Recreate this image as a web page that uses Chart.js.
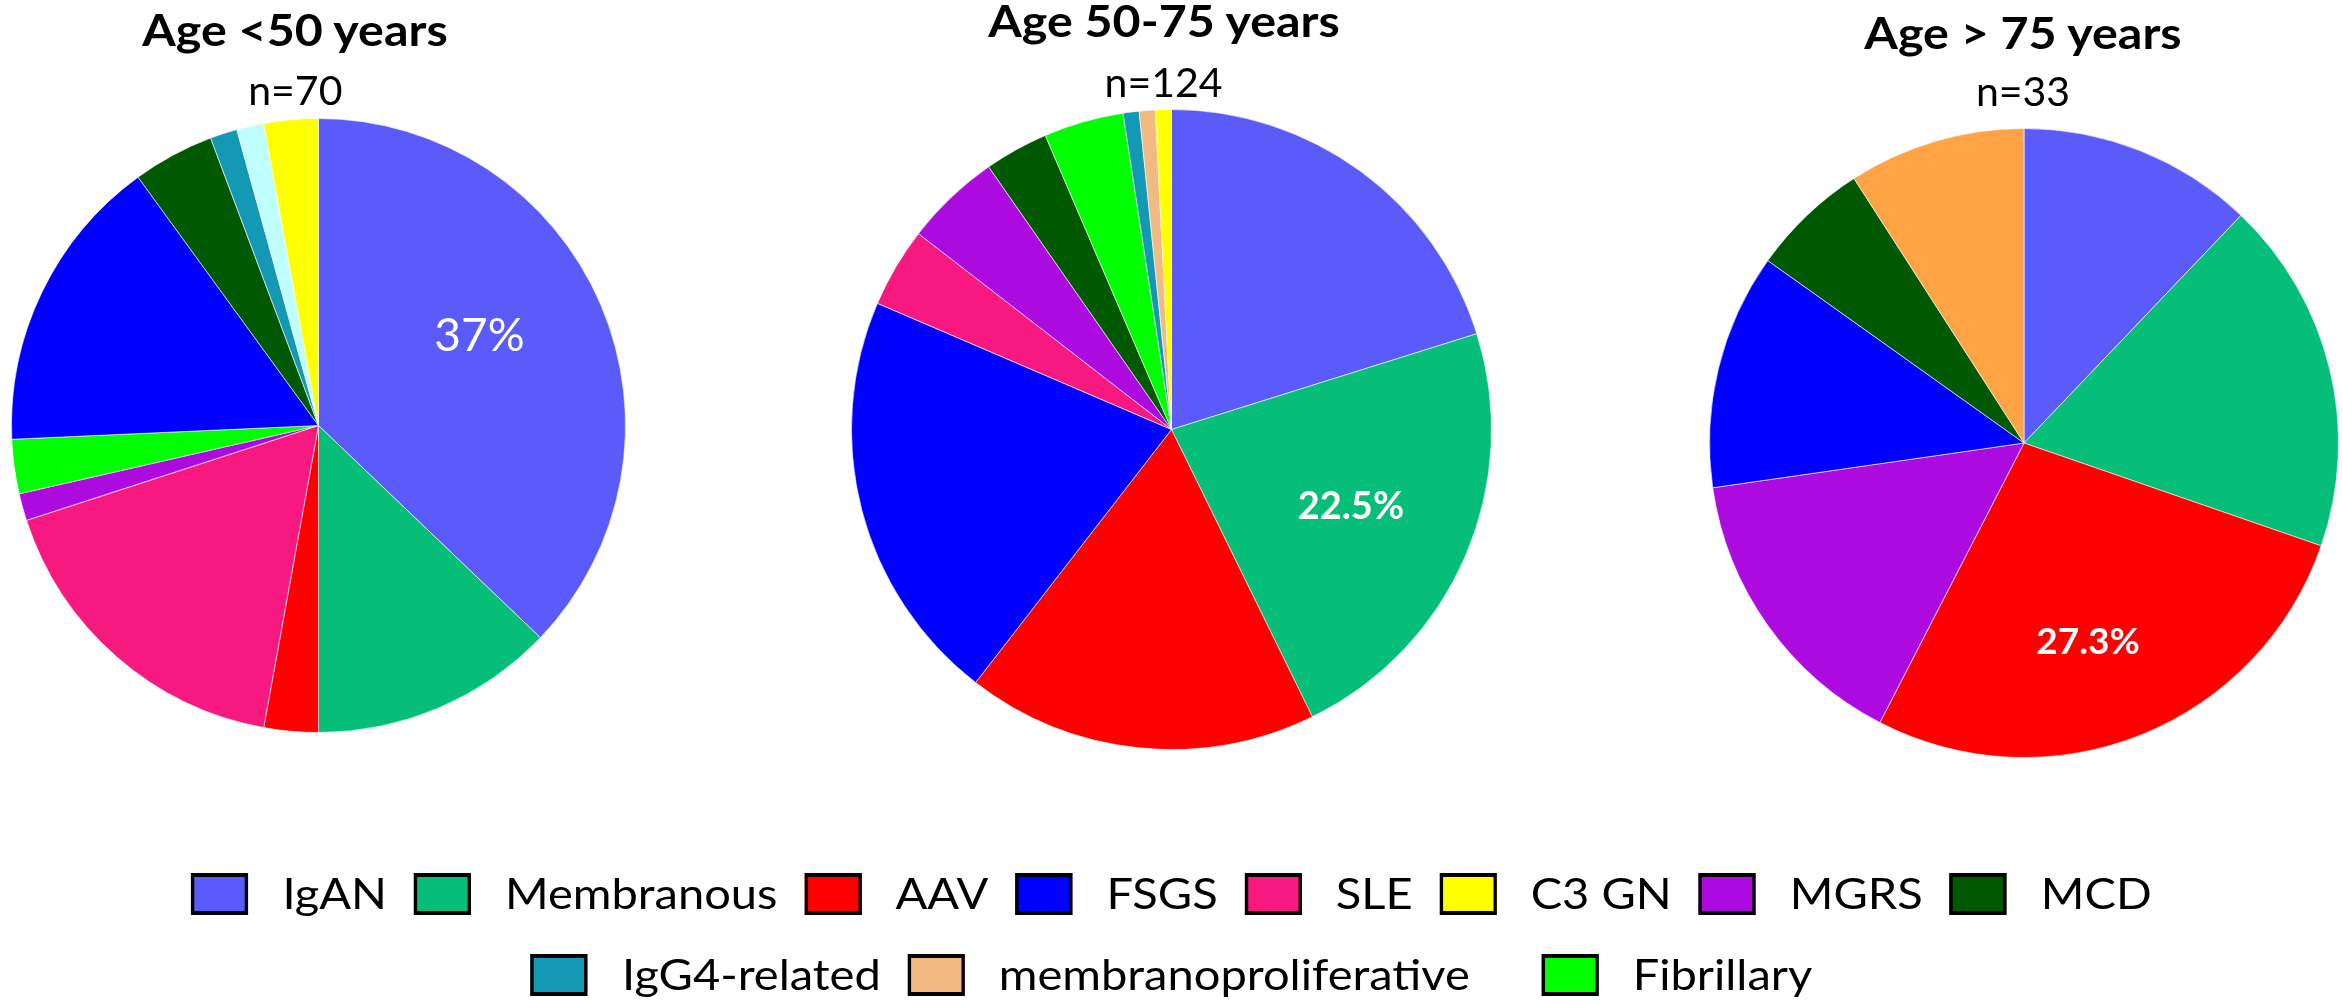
<!DOCTYPE html>
<html>
<head>
<meta charset="utf-8">
<title>Kidney biopsy diagnoses by age group</title>
<script src="https://cdn.jsdelivr.net/npm/chart.js@4.4.0/dist/chart.umd.min.js"></script>
<style>
  html, body { margin: 0; padding: 0; background: #fff; }
  body { width: 2343px; height: 1006px; position: relative; overflow: hidden; font-family: Lato, 'Open Sans', sans-serif; color: #000; }
  .pie { position: absolute; }
  .head { position: absolute; line-height: 1; white-space: nowrap; transform-origin: 50% 0; }
  .head.title { font-weight: 700; font-size: 44px; }
  .head.count { font-weight: 400; font-size: 41px; }
  #legend { position: absolute; left: 0; top: 0; width: 2343px; height: 1006px; transform: scaleX(1.12); transform-origin: 1171.5px 0; }
  .row { position: absolute; left: 0; width: 100%; display: flex; justify-content: center; font-size: 42px; line-height: 1; }
  .item { display: flex; align-items: flex-start; margin: 0 12px; white-space: nowrap; }
  .row.second .item:last-child { margin-left: 52px; }
  .swatch { box-sizing: border-box; width: 51px; height: 42px; border: 4px solid #000; border-left-width: 3.6px; border-right-width: 3.6px; margin-top: 1px; margin-right: 30.4px; }
</style>
</head>
<body>
<div id="pie1" class="pie" style="left:10.7px; top:117.5px; width:615px; height:615px;"><canvas></canvas></div>
<div id="pie2" class="pie" style="left:850.5px; top:108.5px; width:641px; height:641px;"><canvas></canvas></div>
<div id="pie3" class="pie" style="left:1709.2px; top:127.7px; width:630px; height:630px;"><canvas></canvas></div>
<div id="legend"></div>

<script>
// age groups
const groupTitles = ['Age <50 years', 'Age 50-75 years', 'Age > 75 years'];

// slices, clockwise from 12 o'clock
const under50Labels = ['IgAN', 'Membranous', 'AAV', 'SLE', 'MGRS', 'Fibrillary', 'FSGS', 'MCD', 'IgG4-related', 'Unclassified', 'C3 GN'];
const under50Values = [26, 9, 2, 12, 1, 2, 11, 3, 1, 1, 2];

const mid50to75Labels = ['IgAN', 'Membranous', 'AAV', 'FSGS', 'SLE', 'MGRS', 'MCD', 'Fibrillary', 'IgG4-related', 'membranoproliferative', 'C3 GN'];
const mid50to75Values = [25, 28, 22, 26, 5, 6, 4, 5, 1, 1, 1];

const over75Labels = ['IgAN', 'Membranous', 'AAV', 'MGRS', 'FSGS', 'MCD', 'Other'];
const over75Values = [4, 6, 9, 5, 4, 2, 3];

// highlighted slice per chart and its printed share
const highlightSlices = ['IgAN', 'Membranous', 'AAV'];
const highlightTexts = ['37%', '22.5%', '27.3%'];

// shared legend (two rows)
const legendRow1 = ['IgAN', 'Membranous', 'AAV', 'FSGS', 'SLE', 'C3 GN', 'MGRS', 'MCD'];
const legendRow2 = ['IgG4-related', 'membranoproliferative', 'Fibrillary'];

const colors = {
  'IgAN': '#5B5BF9',
  'Membranous': '#07BE78',
  'AAV': '#FF0000',
  'FSGS': '#0000FF',
  'SLE': '#F71880',
  'C3 GN': '#FFFF00',
  'MGRS': '#AD0AE0',
  'MCD': '#005800',
  'IgG4-related': '#1499B4',
  'membranoproliferative': '#F2BA82',
  'Fibrillary': '#00FF00',
  'Unclassified': '#BFFFFF',
  'Other': '#FFA345'
};

// heading placement (centre x, top of text box)
const headLayout = [
  { x: 295.3, titleTop: 6.7, countTop: 68.6 },
  { x: 1163.5, titleTop: -1.7, countTop: 61.3 },
  { x: 2023, titleTop: 9.5, countTop: 70.2 }
];
const labelStyle = [
  { font: '400 46px Lato', radius: 0.6, shift: -6 },
  { font: '700 38px Lato', radius: 0.61, shift: 0 },
  { font: '700 37px Lato', radius: 0.666, shift: 4 }
];

const sliceLabel = {
  id: 'sliceLabel',
  afterDatasetsDraw(chart, args, opts) {
    if (!opts || !opts.text) return;
    const arc = chart.getDatasetMeta(0).data[opts.index];
    const p = arc.getProps(['x', 'y', 'startAngle', 'endAngle', 'outerRadius'], true);
    const a = (p.startAngle + p.endAngle) / 2 + opts.shift * Math.PI / 180;
    const r = p.outerRadius * opts.radius;
    const ctx = chart.ctx;
    ctx.save();
    ctx.font = opts.font;
    ctx.fillStyle = '#fff';
    ctx.textAlign = 'center';
    ctx.textBaseline = 'middle';
    ctx.fillText(opts.text, p.x + Math.cos(a) * r, p.y + Math.sin(a) * r);
    ctx.restore();
  }
};

function makePie(i, id, labels, values) {
  const n = values.reduce((s, v) => s + v, 0);
  const lay = headLayout[i];

  const title = document.createElement('div');
  title.className = 'head title';
  title.textContent = groupTitles[i];
  title.style.left = lay.x + 'px';
  title.style.top = lay.titleTop + 'px';
  title.style.transform = 'translateX(-50%) scaleX(1.1)';
  document.body.appendChild(title);

  const count = document.createElement('div');
  count.className = 'head count';
  count.textContent = 'n=' + n;
  count.style.left = lay.x + 'px';
  count.style.top = lay.countTop + 'px';
  count.style.transform = 'translateX(-50%)';
  document.body.appendChild(count);

  const ctx = document.querySelector('#' + id + ' canvas').getContext('2d');
  new Chart(ctx, {
    type: 'pie',
    data: {
      labels: labels,
      datasets: [{
        data: values,
        backgroundColor: labels.map(l => colors[l]),
        borderColor: 'rgba(255, 255, 255, 0.6)',
        borderWidth: 1,
        hoverOffset: 0
      }]
    },
    options: {
      responsive: true,
      maintainAspectRatio: false,
      animation: false,
      layout: { padding: 0 },
      plugins: {
        legend: { display: false },
        title: { display: false },
        sliceLabel: Object.assign({
          text: highlightTexts[i],
          index: labels.indexOf(highlightSlices[i])
        }, labelStyle[i])
      }
    },
    plugins: [sliceLabel]
  });
}

makePie(0, 'pie1', under50Labels, under50Values);
makePie(1, 'pie2', mid50to75Labels, mid50to75Values);
makePie(2, 'pie3', over75Labels, over75Values);

// legend
const legend = document.getElementById('legend');
[[legendRow1, 872, 'first'], [legendRow2, 953, 'second']].forEach(([names, top, cls]) => {
  const row = document.createElement('div');
  row.className = 'row ' + cls;
  row.style.top = top + 'px';
  names.forEach(name => {
    const item = document.createElement('div');
    item.className = 'item';
    const sw = document.createElement('span');
    sw.className = 'swatch';
    sw.style.background = colors[name];
    const txt = document.createElement('span');
    txt.textContent = name;
    item.appendChild(sw);
    item.appendChild(txt);
    row.appendChild(item);
  });
  legend.appendChild(row);
});
</script>
</body>
</html>
